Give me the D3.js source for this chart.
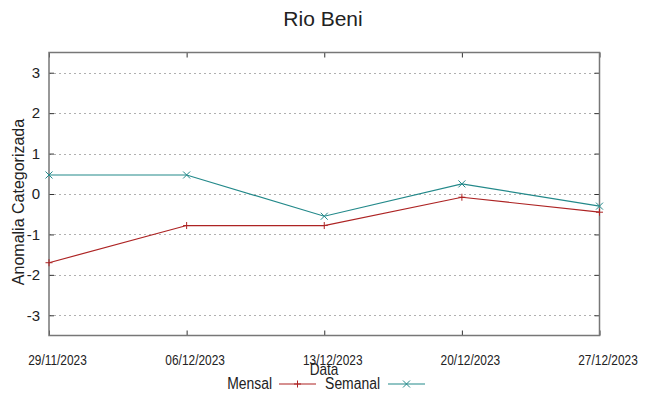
<!DOCTYPE html>
<html>
<head>
<meta charset="utf-8">
<script src="https://cdn.jsdelivr.net/npm/d3@7"></script>
<style>
  body { margin: 0; background: #fff; }
  text { font-family: "Liberation Sans", Arial, sans-serif; fill: #222; }
</style>
</head>
<body>
<div id="chart"></div>
<script>
// dates of the weekly observations
var dates = ["29/11/2023", "06/12/2023", "13/12/2023", "20/12/2023", "27/12/2023"];
// categorized anomaly, monthly and weekly
var mensal = [-1.70, -0.78, -0.78, -0.08, -0.45];
var semanal = [0.47, 0.47, -0.55, 0.25, -0.30];
var yTicks = [-3, -2, -1, 0, 1, 2, 3];

var width = 648, height = 396;
var margin = {top: 52.5, right: 48.5, bottom: 60.5, left: 49};
var narrow = 0.85; // the original labels are set in a condensed face

var parse = d3.timeParse("%d/%m/%Y");
var fmt = d3.timeFormat("%d/%m/%Y");
var days = dates.map(parse);

var x = d3.scaleTime()
  .domain([days[0], days[days.length - 1]])
  .range([margin.left, width - margin.right]);

var y = d3.scaleLinear()
  .domain([-3.5, 3.5])
  .range([height - margin.bottom, margin.top]);

var svg = d3.select("#chart").append("svg")
  .attr("width", width)
  .attr("height", height);

// dotted grid
svg.append("g").selectAll("line")
  .data(yTicks)
  .enter().append("line")
  .attr("x1", margin.left)
  .attr("x2", width - margin.right)
  .attr("y1", d => Math.round(y(d)) + 0.5)
  .attr("y2", d => Math.round(y(d)) + 0.5)
  .attr("stroke", "#b0b0b0")
  .attr("stroke-dasharray", "2,3");

// axes: ticks point inward, mirrored on top and right
var axLeft = svg.append("g")
  .attr("transform", "translate(" + margin.left + ",0)")
  .call(d3.axisLeft(y).tickValues(yTicks).tickSize(-5).tickPadding(9).tickFormat(d => String(d)));
var axRight = svg.append("g")
  .attr("transform", "translate(" + (width - margin.right) + ",0)")
  .call(d3.axisRight(y).tickValues(yTicks).tickSize(-5).tickFormat(""));
var axBottom = svg.append("g")
  .attr("transform", "translate(0," + (height - margin.bottom) + ")")
  .call(d3.axisBottom(x).tickValues(days).tickFormat(fmt).tickSize(-5).tickPadding(20));
var axTop = svg.append("g")
  .attr("transform", "translate(0," + margin.top + ")")
  .call(d3.axisTop(x).tickValues(days).tickSize(-5).tickFormat(""));

[axLeft, axRight, axBottom, axTop].forEach(g => {
  g.select(".domain").remove();
  g.selectAll(".tick line").attr("stroke", "#333");
});
axLeft.selectAll("text").style("font-size", "15px").attr("fill", "#222");
// date labels sit a little right of their ticks, as in the original
axBottom.selectAll("text")
  .style("font-size", "14px")
  .attr("fill", "#222")
  .attr("x", 8 / narrow)
  .attr("transform", "scale(" + narrow + ",1)");

// border
svg.append("rect")
  .attr("x", margin.left)
  .attr("y", margin.top)
  .attr("width", width - margin.left - margin.right)
  .attr("height", height - margin.top - margin.bottom)
  .attr("fill", "none")
  .attr("stroke", "#777")
  .attr("stroke-width", 1.5);

var series = [
  {name: "Mensal", values: mensal, color: "#ad2323", mark: "plus"},
  {name: "Semanal", values: semanal, color: "#23898a", mark: "cross"}
];

var line = d3.line()
  .x((d, i) => x(days[i]))
  .y(d => y(d));

function marker(g, kind, cx, cy, color) {
  var s = 3.5;
  if (kind === "plus") {
    g.append("path").attr("d", "M" + (cx - s) + "," + cy + "H" + (cx + s) + "M" + cx + "," + (cy - s) + "V" + (cy + s));
  } else {
    g.append("path").attr("d", "M" + (cx - s) + "," + (cy - s) + "L" + (cx + s) + "," + (cy + s) + "M" + (cx - s) + "," + (cy + s) + "L" + (cx + s) + "," + (cy - s));
  }
  g.selectAll("path").attr("stroke", color).attr("fill", "none").attr("stroke-width", 1);
}

series.forEach(s => {
  svg.append("path")
    .datum(s.values)
    .attr("d", line)
    .attr("fill", "none")
    .attr("stroke", s.color)
    .attr("stroke-width", 1.2);
  s.values.forEach((v, i) => {
    marker(svg.append("g"), s.mark, x(days[i]), y(v), s.color);
  });
});

// title and labels
svg.append("text")
  .attr("x", 323).attr("y", 26)
  .attr("text-anchor", "middle")
  .style("font-size", "21px")
  .text("Rio Beni");

svg.append("text")
  .attr("transform", "translate(24,202) rotate(-90)")
  .attr("text-anchor", "middle")
  .style("font-size", "16px")
  .text("Anomalia Categorizada");

svg.append("text")
  .attr("transform", "translate(324,375) scale(" + narrow + ",1)")
  .attr("text-anchor", "middle")
  .style("font-size", "16px")
  .text("Data");

// legend
var legendPos = [{textEnd: 272, x0: 279}, {textEnd: 380, x0: 388}];
series.forEach((s, i) => {
  var p = legendPos[i];
  var g = svg.append("g");
  g.append("text")
    .attr("transform", "translate(" + p.textEnd + ",389) scale(0.87,1)")
    .attr("text-anchor", "end")
    .style("font-size", "16px")
    .text(s.name);
  g.append("line")
    .attr("x1", p.x0).attr("x2", p.x0 + 37)
    .attr("y1", 384).attr("y2", 384)
    .attr("stroke", s.color).attr("stroke-width", 1.2);
  marker(g.append("g"), s.mark, p.x0 + 18.5, 384, s.color);
});
</script>
</body>
</html>
